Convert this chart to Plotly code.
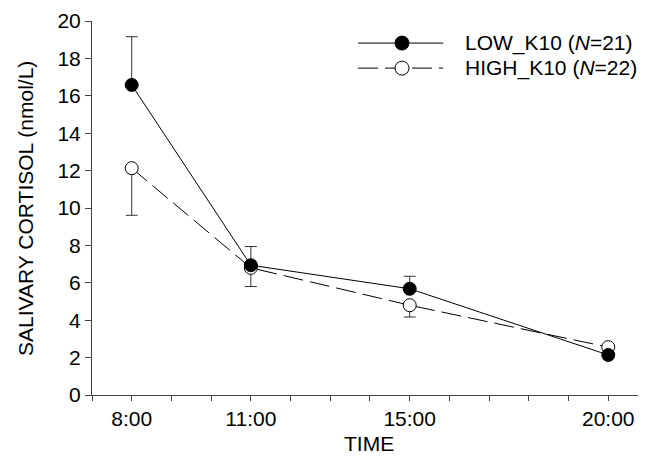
import plotly.graph_objects as go

hours = [8, 11, 15, 20]
low_vals = [16.58, 6.94, 5.68, 2.14]
low_err_up = [2.58, 1.0, 0.67, 0.0]
high_vals = [12.13, 6.80, 4.80, 2.56]
high_err_down = [2.52, 1.0, 0.63, 0.0]
tick_hours = list(range(7, 21))
tick_labels = {8: "8:00", 11: "11:00", 15: "15:00", 20: "20:00"}
legend_names = ["LOW_K10 (<i>N</i>=21)", "HIGH_K10 (<i>N</i>=22)"]
x_title = "TIME"
y_title = "SALIVARY CORTISOL (nmol/L)"

FONT = "Liberation Sans, Arial, sans-serif"
AX = "#444444"
DASH = "20px,7px"
FS = 21

fig = go.Figure()
fig.add_trace(go.Scatter(
    x=hours, y=high_vals, mode="lines+markers", showlegend=False,
    line=dict(color="black", width=1, dash=DASH),
    marker=dict(symbol="circle", size=13, color="white", line=dict(color="black", width=1)),
    error_y=dict(type="data", array=[0]*4, arrayminus=high_err_down, symmetric=False,
                 color="#333333", thickness=1, width=6),
))
fig.add_trace(go.Scatter(
    x=hours, y=low_vals, mode="lines+markers", showlegend=False,
    line=dict(color="black", width=1),
    marker=dict(symbol="circle", size=13, color="black", line=dict(color="black", width=1)),
    error_y=dict(type="data", array=low_err_up, arrayminus=[0]*4, symmetric=False,
                 color="#333333", thickness=1, width=6),
))

# custom legend (paper coordinates)
rows = [(0.941, "black", "solid", legend_names[0]), (0.874, "white", DASH, legend_names[1])]
for yy, fill, dash, name in rows:
    fig.add_shape(type="line", xref="paper", yref="paper", x0=0.480, x1=0.634, y0=yy, y1=yy,
                  line=dict(color="black", width=1, dash=dash))
    fig.add_shape(type="circle", xref="paper", yref="paper", xsizemode="pixel", ysizemode="pixel",
                  xanchor=0.5596, yanchor=yy, x0=-7, x1=7, y0=-7, y1=7,
                  fillcolor=fill, line=dict(color="black", width=1))
    fig.add_annotation(xref="paper", yref="paper", x=0.670, y=yy, text=name, showarrow=False,
                       xanchor="left", yanchor="middle", font=dict(size=21, color="black", family=FONT))

# axis titles
fig.add_annotation(xref="paper", yref="paper", x=0.5, y=-0.131, text=x_title, showarrow=False,
                   xanchor="center", yanchor="middle", font=dict(size=21, color="black", family=FONT))
fig.add_annotation(xref="paper", yref="paper", x=-0.121, y=0.5, text=y_title, showarrow=False,
                   textangle=-90, xanchor="center", yanchor="middle",
                   font=dict(size=FS, color="black", family=FONT))

# page body adds an 8px margin, so the figure is 8px smaller and margins shifted
fig.update_layout(
    width=638, height=450,
    margin=dict(l=84, r=0, t=13, b=63),
    plot_bgcolor="white", paper_bgcolor="white",
    font=dict(family=FONT, size=FS, color="black"),
    showlegend=False,
)
fig.update_xaxes(
    range=[7, 20.95], showgrid=False, zeroline=False,
    showline=True, linecolor=AX, linewidth=1,
    ticks="outside", ticklen=5, tickcolor=AX, tickwidth=1,
    tickvals=tick_hours, ticktext=[tick_labels.get(h, "") for h in tick_hours],
)
fig.update_yaxes(
    range=[0, 20], showgrid=False, zeroline=False,
    showline=True, linecolor=AX, linewidth=1,
    ticks="outside", ticklen=6, tickcolor=AX, tickwidth=1,
    tickvals=list(range(0, 21, 2)),
)
fig.write_html("out.html")
